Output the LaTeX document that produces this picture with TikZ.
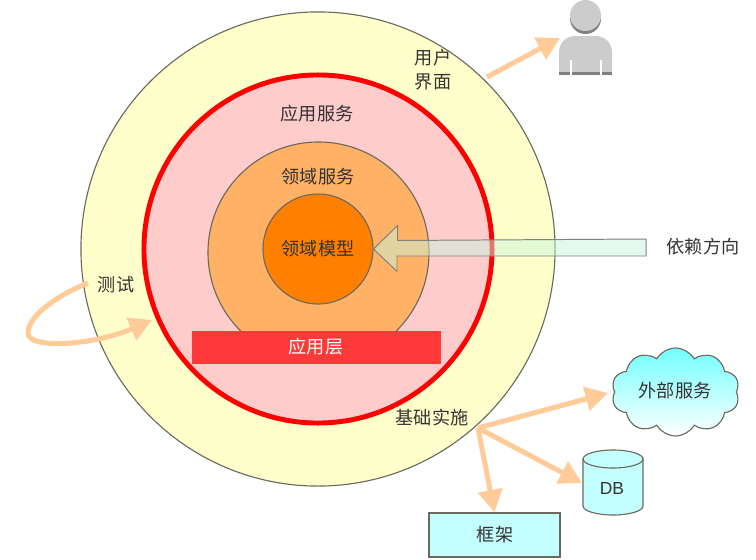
\documentclass[tikz,border=0pt]{standalone}
\usepackage{fontspec}
\setmainfont{Noto Sans CJK SC}
\newfontfamily\latinfont{Liberation Sans}
\usetikzlibrary{arrows.meta,shapes.symbols}
\definecolor{ringline}{HTML}{6A6A5E}
\definecolor{outerfill}{HTML}{FFFFCC}
\definecolor{appfill}{HTML}{FFCCCC}
\definecolor{domainfill}{HTML}{FFB266}
\definecolor{modelfill}{HTML}{FF8000}
\definecolor{barfill}{HTML}{FF3838}
\definecolor{peach}{HTML}{FFCC99}
\definecolor{boxfill}{HTML}{C4FFFF}
\definecolor{textgray}{HTML}{333333}
\definecolor{persongray}{HTML}{CCCCCC}
\definecolor{persondark}{HTML}{808080}
\definecolor{dirfill}{HTML}{C6F5DC}
\tikzset{
  ring/.style={circle,draw=ringline,line width=.8pt,inner sep=0pt},
  lbl/.style={font=\fontsize{12.9pt}{17pt}\selectfont,text=textgray,align=center,inner sep=0pt},
  dep/.style={->,>={Triangle[length=16pt,width=17pt]},peach,line width=3.6pt},
}
\begin{document}
\begin{tikzpicture}[x=.025cm,y=-.025cm]
  \useasboundingbox (0,0) rectangle (756,559);

  \node[ring,fill=outerfill,minimum size=11.85cm] (outer) at (318,249) {};
  \node[ring,fill=appfill,draw=red,line width=3.5pt,minimum size=8.7cm] (app) at (318,249) {};
  \node[ring,fill=domainfill,minimum size=5.525cm] (domain) at (318.5,252.5) {};
  \node[ring,fill=modelfill,minimum size=2.75cm] (model) at (318,249) {};
  \node[fill=barfill,minimum width=6.225cm,minimum height=.825cm,inner sep=0pt] (bar) at (316.5,347.5) {};

  \node[lbl] (ui) at (433,70) {用户\\界面};
  \node[lbl] (appsvc) at (317,114) {应用服务};
  \node[lbl] (domsvc) at (318,177) {领域服务};
  \node[lbl] (modeltxt) at (318,249) {领域模型};
  \node[lbl,text=white] (layer) at (316,347) {应用层};
  \node[lbl] (test) at (116,285) {测试};
  \node[lbl] (infra) at (432,418) {基础实施};
  \node[lbl] (dirtxt) at (703,247) {依赖方向};

  % direction arrow
  \coordinate (dirend) at (646,256);
  \draw[fill=dirfill,fill opacity=.5,draw=black!50,line width=.7pt]
    (model.east) -- ++(24,-23.5) -- ++(0,15) -- (646,239) -- (dirend) -- (397,256) -- ++(0,15.5) -- cycle;

  % person
  \node[circle,fill=persondark,minimum size=.775cm,inner sep=0pt] (headshadow) at (585.5,18.5) {};
  \node[circle,fill=persongray,minimum size=.775cm,inner sep=0pt] (head) at (585.5,15.5) {};
  \fill[persongray] (559,73) -- (559,52) arc[start angle=180,end angle=270,radius=16] -- (596,36)
    arc[start angle=-90,end angle=0,radius=16] -- (612,73) -- cycle;
  \fill[persondark] (559,72) rectangle (612,75);
  \fill[white] (570.3,60) rectangle (571.7,75);
  \fill[white] (600.3,60) rectangle (601.7,75);
  \coordinate (person) at (560,38);

  % outside
  \node[cloud,cloud puffs=10,cloud puff arc=120,aspect=1.5,draw=ringline,line width=.8pt,
    top color=cyan!55,bottom color=white,minimum width=3.2cm,minimum height=2.2cm,inner sep=0pt] (extern) at (675.5,392) {};
  \node[lbl] (externtxt) at (675,391) {外部服务};
  \draw[fill=boxfill,draw=ringline,line width=.8pt] (583,459) -- (583,506)
    arc[start angle=180,end angle=0,x radius=30,y radius=9] -- (643,459) -- cycle;
  \draw[fill=boxfill,draw=ringline,line width=.8pt] (613,459) ellipse[x radius=30,y radius=9];
  \node[lbl,font=\latinfont\fontsize{12.4pt}{14pt}\selectfont] (dbtxt) at (612,488) {DB};
  \node[draw=ringline,line width=.8pt,fill=boxfill,minimum width=3.275cm,minimum height=1.1cm,inner sep=0pt] (frame) at (494.5,535) {};
  \node[lbl] (frametxt) at (495,535) {框架};

  % dependencies
  \coordinate (uistart) at (487,77);
  \coordinate (hub) at (478,428);
  \coordinate (teststart) at (88,283);
  \coordinate (testend) at (152,320);
  \coordinate (testbend) at (28,333);
  \coordinate (dbtip) at (582,483);
  \coordinate (cloudtip) at (608,393);
  \draw[dep] (uistart) -- (person);
  \draw[dep] (hub) -- (cloudtip);
  \draw[dep] (hub) -- (dbtip);
  \draw[dep] (hub) -- (frame.north);
  \draw[dep] (teststart) .. controls (60,294) and (28,315) .. (testbend)
    .. controls (28,350) and (95,345) .. (testend);
\end{tikzpicture}
\end{document}
